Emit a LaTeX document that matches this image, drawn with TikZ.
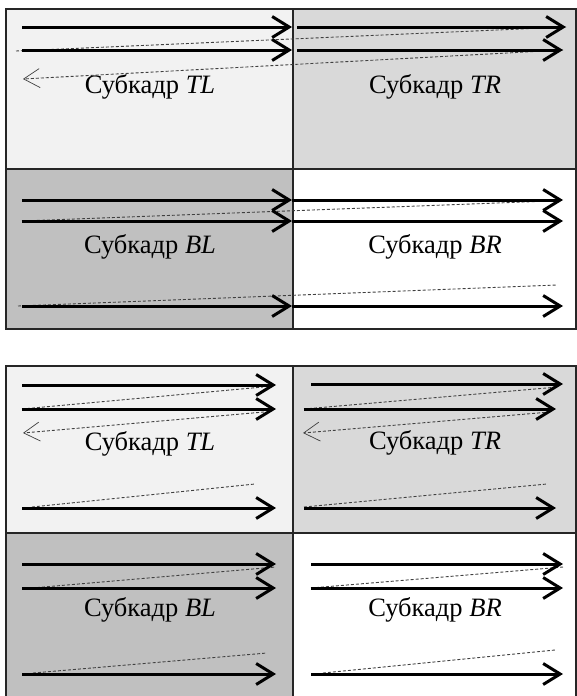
\documentclass[tikz,border=0pt]{standalone}
\usepackage{fontspec}
\setmainfont{Liberation Serif}
\usetikzlibrary{arrows.meta}

\definecolor{cellTL}{HTML}{F2F2F2}
\definecolor{cellTR}{HTML}{D9D9D9}
\definecolor{cellBL}{HTML}{C0C0C0}

\begin{document}
\begin{tikzpicture}[
    x=1pt, y=-1pt,
    every node/.style={font=\fontsize{26.5}{30}\selectfont},
    frame/.style={draw=black!85, line width=2pt},
    scan/.style={-{Straight Barb[length=17pt,width=21pt]}, line width=3pt},
    retrace/.style={draw=black!75, line width=0.9pt, dash pattern=on 3pt off 2pt},
    back/.style={retrace, -{Straight Barb[length=16pt,width=19pt,line width=0.7pt]}},
    label/.style={anchor=base}
]
\useasboundingbox (0,0) rectangle (576,696);

% upper picture: lines run across both halves
\fill[cellTL] (6,9) rectangle (293,169);
\fill[cellTR] (293,9) rectangle (576,169);
\fill[cellBL] (6,169) rectangle (293,329);
\fill[white] (293,169) rectangle (576,329);
\draw[frame] (6,9) rectangle (576,329);
\draw[frame] (293,9) -- (293,329);
\draw[frame] (6,169) -- (576,169);

\draw[retrace] (16,51) -- (566,27);
\draw[back] (563,50) -- (23,79);
\draw[scan] (22,27) -- (292,27);
\draw[scan] (297,27) -- (566,27);
\draw[scan] (22,50) -- (292,50);
\draw[scan] (297,50) -- (563,50);
\node[label] (utl) at (150,93) {Субкадр \textit{TL}};
\node[label] (utr) at (435,93) {Субкадр \textit{TR}};

\draw[retrace] (22,221) -- (550,201);
\draw[retrace] (18,306) -- (557,285);
\draw[scan] (22,200) -- (292,200);
\draw[scan] (292,200) -- (563,200);
\draw[scan] (22,221) -- (292,221);
\draw[scan] (292,221) -- (563,221);
\draw[scan] (22,306) -- (292,306);
\draw[scan] (292,306) -- (563,306);
\node[label] (ubl) at (150,253) {Субкадр \textit{BL}};
\node[label] (ubr) at (435,253) {Субкадр \textit{BR}};

% lower picture: each subframe scanned on its own
\fill[cellTL] (6,366) rectangle (293,533);
\fill[cellTR] (293,366) rectangle (576,533);
\fill[cellBL] (6,533) rectangle (293,700);
\fill[white] (293,533) rectangle (576,700);
\draw[frame] (6,700) -- (6,366) -- (576,366) -- (576,700);
\draw[frame] (293,366) -- (293,700);
\draw[frame] (6,533) -- (576,533);

% TL
\draw[retrace] (22,409) -- (263,387);
\draw[back] (264,412) -- (23,433);
\draw[retrace] (32,507) -- (255,484);
\draw[scan] (22,385) -- (276,385);
\draw[scan] (22,409) -- (276,409);
\draw[scan] (22,508) -- (276,508);
\node[label] (ltl) at (150,450) {Субкадр \textit{TL}};

% TR
\draw[retrace] (304,409) -- (558,387);
\draw[back] (550,412) -- (303,433);
\draw[retrace] (304,507) -- (547,484);
\draw[scan] (311,384) -- (563,384);
\draw[scan] (304,409) -- (556,409);
\draw[scan] (304,508) -- (556,508);
\node[label] (ltr) at (435,449) {Субкадр \textit{TR}};

% BL
\draw[retrace] (32,588) -- (276,567);
\draw[retrace] (33,673) -- (267,653);
\draw[scan] (22,564) -- (276,564);
\draw[scan] (22,588) -- (276,588);
\draw[scan] (22,674) -- (276,674);
\node[label] (lbl) at (150,616) {Субкадр \textit{BL}};

% BR
\draw[retrace] (311,588) -- (563,567);
\draw[retrace] (323,673) -- (555,650);
\draw[scan] (311,564) -- (563,564);
\draw[scan] (311,588) -- (563,588);
\draw[scan] (311,674) -- (563,674);
\node[label] (lbr) at (435,616) {Субкадр \textit{BR}};
\end{tikzpicture}
\end{document}
